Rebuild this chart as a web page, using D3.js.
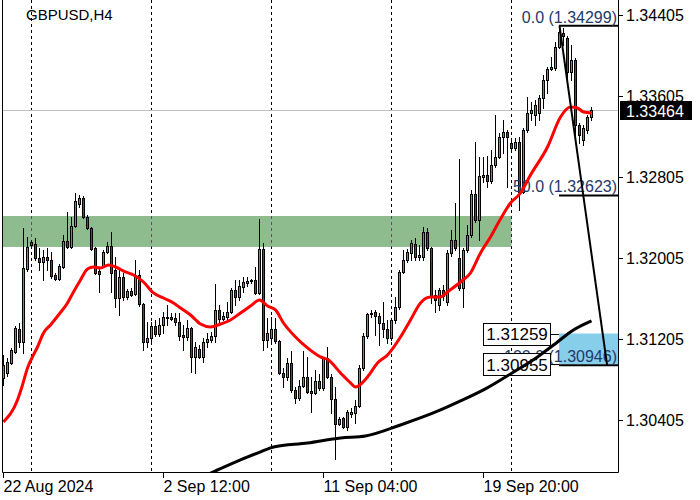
<!DOCTYPE html>
<html><head><meta charset="utf-8">
<script src="https://cdn.jsdelivr.net/npm/d3@7"></script>
<style>body{margin:0;background:#fff;}svg{display:block;}</style>
</head><body>
<svg id="c" width="700" height="500"></svg>
<script>
// ---------- DATA ----------
const symbolTitle = "GBPUSD,H4";
const openP = [
1.30820,1.30870,1.30968,1.31077,1.31304,1.31176,1.31897,1.32163,1.32143,1.32005,
1.31966,1.32015,1.31986,1.31837,1.31798,1.31916,1.32173,1.32114,1.32321,1.32539,
1.32598,1.32410,1.32301,1.32104,1.31877,1.31926,1.32065,1.32124,1.31887,1.31610,
1.31818,1.31620,1.31680,1.31650,1.31837,1.31551,1.31176,1.31215,1.31334,1.31255,
1.31344,1.31423,1.31423,1.31413,1.31373,1.31245,1.31225,1.31314,1.31028,1.31107,
1.31028,1.31176,1.31196,1.31235,1.31492,1.31403,1.31423,1.31472,1.31689,1.31620,
1.31719,1.31758,1.31778,1.31788,1.31660,1.32094,1.31196,1.31215,1.31304,1.31186,
1.30870,1.30830,1.30968,1.30702,1.30623,1.30741,1.30830,1.30692,1.30672,1.30791,
1.30722,1.31018,1.30830,1.30613,1.30366,1.30425,1.30336,1.30465,1.30475,1.30544,
1.30919,1.31235,1.31452,1.31472,1.31433,1.31363,1.31304,1.31215,1.31393,1.31521,
1.31867,1.31986,1.32055,1.32143,1.32015,1.32015,1.32262,1.32104,1.31640,1.31541,
1.31689,1.31571,1.32055,1.32183,1.32005,1.31709,1.32084,1.32232,1.32637,1.32381,
1.32805,1.32825,1.32766,1.32924,1.33003,1.33200,1.33250,1.33141,1.33092,1.33151,
1.32657,1.33269,1.33437,1.33417,1.33437,1.33585,1.33763,1.33872,1.33882,1.34089,
1.34227,1.34178,1.33842,1.33961,1.33319,1.33171,1.33269,1.33398];
const highP = [
1.31047,1.31018,1.31117,1.31334,1.31363,1.32302,1.32213,1.32183,1.32203,1.32104,
1.32084,1.32104,1.32065,1.31857,1.31946,1.32232,1.32460,1.32410,1.32647,1.32627,
1.32618,1.32430,1.32311,1.32114,1.31906,1.32084,1.32163,1.32262,1.32015,1.31906,
1.31857,1.31699,1.31709,1.31986,1.31887,1.31561,1.31373,1.31373,1.31393,1.31413,
1.31472,1.31541,1.31462,1.31462,1.31462,1.31344,1.31393,1.31324,1.31176,1.31146,
1.31215,1.31265,1.31275,1.31749,1.31541,1.31472,1.31571,1.31709,1.31788,1.31788,
1.31818,1.31818,1.31798,1.31916,1.32390,1.32153,1.31413,1.31423,1.31413,1.31196,
1.30919,1.31018,1.31087,1.30731,1.30800,1.31087,1.31028,1.30830,1.30899,1.30860,
1.31028,1.31126,1.30860,1.30731,1.30435,1.30435,1.30504,1.30524,1.30603,1.30949,
1.31265,1.31462,1.31492,1.31492,1.31462,1.31571,1.31393,1.31413,1.31620,1.31887,
1.32084,1.32094,1.32183,1.32203,1.32133,1.32311,1.32301,1.32114,1.31689,1.31709,
1.31739,1.32084,1.32282,1.32548,1.32983,1.32104,1.32331,1.32677,1.33151,1.33004,
1.33004,1.33014,1.33072,1.33417,1.33240,1.33368,1.33269,1.33190,1.33190,1.33200,
1.33289,1.33595,1.33546,1.33565,1.33615,1.33812,1.33891,1.33990,1.34138,1.34299,
1.34277,1.34198,1.34109,1.33980,1.33338,1.33319,1.33417,1.33496];
const lowP = [
1.30751,1.30840,1.30958,1.31067,1.31126,1.31067,1.31877,1.32123,1.31986,1.31887,
1.31788,1.31887,1.31808,1.31788,1.31788,1.31906,1.32104,1.32104,1.32311,1.32509,
1.32400,1.32292,1.32084,1.31847,1.31670,1.31916,1.32055,1.31670,1.31521,1.31442,
1.31591,1.31601,1.31630,1.31640,1.31531,1.31097,1.31126,1.31176,1.31235,1.31235,
1.31265,1.31344,1.31393,1.31344,1.31196,1.31097,1.31196,1.30880,1.30870,1.31018,
1.30978,1.31126,1.31176,1.31176,1.31363,1.31393,1.31393,1.31462,1.31541,1.31591,
1.31670,1.31729,1.31758,1.31650,1.31650,1.31097,1.31126,1.31176,1.31166,1.30860,
1.30731,1.30800,1.30682,1.30573,1.30603,1.30731,1.30672,1.30485,1.30662,1.30702,
1.30702,1.30820,1.30475,1.30020,1.30356,1.30326,1.30306,1.30435,1.30376,1.30534,
1.30899,1.31215,1.31423,1.31245,1.31146,1.31225,1.31166,1.31196,1.31363,1.31502,
1.31857,1.31966,1.31986,1.31986,1.31986,1.31986,1.32084,1.31561,1.31472,1.31492,
1.31591,1.31541,1.32025,1.32084,1.31689,1.31521,1.32065,1.32213,1.32361,1.32183,
1.32756,1.32706,1.32746,1.32904,1.32993,1.33042,1.32706,1.33072,1.33072,1.32479,
1.32647,1.33250,1.33368,1.33319,1.33368,1.33487,1.33635,1.33862,1.33862,1.34079,
1.34109,1.33763,1.33763,1.33220,1.33141,1.33121,1.33240,1.33368];
const closeP = [
1.30949,1.30978,1.31097,1.31314,1.31176,1.31907,1.32114,1.32133,1.32005,1.31966,
1.32015,1.31986,1.31828,1.31798,1.31926,1.32173,1.32114,1.32321,1.32568,1.32598,
1.32410,1.32301,1.32094,1.31857,1.31847,1.32065,1.32124,1.31857,1.31610,1.31818,
1.31620,1.31680,1.31640,1.31837,1.31551,1.31176,1.31215,1.31334,1.31255,1.31344,
1.31423,1.31413,1.31403,1.31373,1.31235,1.31225,1.31314,1.31028,1.31126,1.31028,
1.31176,1.31205,1.31235,1.31492,1.31403,1.31433,1.31472,1.31689,1.31620,1.31729,
1.31768,1.31778,1.31788,1.31660,1.32094,1.31196,1.31265,1.31304,1.31186,1.30870,
1.30830,1.30968,1.30702,1.30623,1.30741,1.30830,1.30682,1.30672,1.30791,1.30722,
1.31018,1.30830,1.30613,1.30366,1.30415,1.30336,1.30485,1.30485,1.30544,1.30919,
1.31235,1.31452,1.31462,1.31433,1.31363,1.31304,1.31215,1.31393,1.31521,1.31867,
1.31986,1.32065,1.32153,1.32015,1.32035,1.32262,1.32104,1.31620,1.31591,1.31689,
1.31630,1.32055,1.32183,1.32104,1.31709,1.32084,1.32232,1.32637,1.32381,1.32815,
1.32825,1.32766,1.32924,1.33003,1.33200,1.33250,1.33200,1.33092,1.33151,1.32657,
1.33269,1.33437,1.33467,1.33516,1.33585,1.33763,1.33872,1.33891,1.34089,1.34237,
1.34198,1.33842,1.33961,1.33319,1.33220,1.33289,1.33398,1.33464];

// fast (red) moving average, read at bar positions
const maFastBar = [0,3.5,4.75,6,7.25,8.5,10,11.75,13.75,16,17.5,19.25,21,22.5,24.25,26.25,28,30.5,32.5,35,
37.5,40,42.5,44.25,46.75,49.25,51.75,54.25,56.75,59.25,61.75,64,66,68,70,73,76,79.25,81.25,84.25,
86.75,88,91,93.5,96,99.25,101.75,104.25,106.75,109.25,111,114.25,116.75,119.25,121.75,124.25,126.75,129.25,131.75,136,
139.25,141.75,143.5,145,147];
const maFastVal = [1.30386,1.30603,1.30751,1.30919,1.31028,1.31126,1.31265,1.31344,1.31442,1.31561,
1.31670,1.31788,1.31897,1.31916,1.31906,1.31936,1.31916,1.31867,1.31837,1.31768,
1.31660,1.31610,1.31561,1.31511,1.31442,1.31353,1.31324,1.31353,1.31393,1.31462,
1.31531,1.31591,1.31531,1.31492,1.31363,1.31225,1.31117,1.31028,1.30998,1.30870,
1.30771,1.30731,1.30830,1.30968,1.31047,1.31225,1.31393,1.31561,1.31620,1.31620,
1.31670,1.31768,1.31857,1.32055,1.32213,1.32390,1.32548,1.32647,1.32825,1.33101,
1.33398,1.33496,1.33486,1.33447,1.33437];
// slow (black) moving average
const maSlowBar = [49,53,59.25,64.25,67.5,76,84.25,90.5,99.25,109.25,114.25,120,126.75,133.5,138.5,141.75,147];
const maSlowVal = [1.29830,1.29902,1.30011,1.30090,1.30139,1.30178,1.30228,1.30248,1.30356,1.30504,1.30593,1.30702,1.30860,1.31028,1.31176,1.31275,1.31383];

const priceTicks = [1.34405,1.33605,1.32805,1.32005,1.31205,1.30405];
const timeTickBars = [0,40,80,120];
const timeTickLabels = ["22 Aug 2024","2 Sep 12:00","11 Sep 04:00","19 Sep 20:00"];
const weekGridBars = [7,37,67,97,127];
const lastPrice = 1.33464;

const fibLevels = ["0.0","50.0","100.0"];
const fibPrices = [1.34299,1.32623,1.30946];
const fibBars = [139,150.9];
const zonePrices = [1.32114,1.32420];
const zoneEndBar = 127;
const boxPrices = [1.31259,1.30955];
const boxStartBar = 138.9;

// ---------- CHART ----------
const W=700,H=500, L=2, R=618, B=472;
const FONT = "'Liberation Sans', Arial, sans-serif";
const bullFill="#3cb043", bearFill="#e01010", fibText="#23396a";
const svg = d3.select("#c");
svg.append("rect").attr("width",W).attr("height",H).attr("fill","#fff");

const x = d3.scaleLinear().domain([0,147]).range([3.5,591.5]);
const y = d3.scaleLinear().domain([1.30405,1.34405]).range([420,15]);

const defs = svg.append("defs");
defs.append("clipPath").attr("id","plot").append("rect")
  .attr("x",L+1).attr("y",0).attr("width",R-L-1).attr("height",B);
const zoneTop=y(zonePrices[1]), zoneBot=y(zonePrices[0]);
defs.append("clipPath").attr("id","zoneclip").append("rect")
  .attr("x",L).attr("y",zoneTop).attr("width",x(zoneEndBar)-L).attr("height",zoneBot-zoneTop);

const g = svg.append("g").attr("clip-path","url(#plot)");

// zones
g.append("rect").attr("x",L).attr("y",zoneTop).attr("width",x(zoneEndBar)-L)
  .attr("height",zoneBot-zoneTop).attr("fill","#8fbc8f");
const bx = x(boxStartBar);
g.append("rect").attr("x",bx).attr("y",y(boxPrices[0])).attr("width",R-bx)
  .attr("height",y(boxPrices[1])-y(boxPrices[0])).attr("fill","#87ceeb");

// week grid
g.selectAll(".grid").data(weekGridBars).join("line").attr("class","grid")
  .attr("x1",d=>x(d)).attr("x2",d=>x(d)).attr("y1",0).attr("y2",B)
  .attr("stroke","#000").attr("stroke-dasharray","3,3");
g.append("g").attr("clip-path","url(#zoneclip)").selectAll("line").data(weekGridBars).join("line")
  .attr("x1",d=>x(d)).attr("x2",d=>x(d)).attr("y1",0).attr("y2",B)
  .attr("stroke","#704370").attr("stroke-dasharray","3,3");

// last price line
const yLast = Math.round(y(lastPrice)-0.5)+0.5;
g.append("line").attr("x1",0).attr("x2",R).attr("y1",yLast).attr("y2",yLast).attr("stroke","#c0c0c0");

// candles
const idx = d3.range(openP.length);
g.selectAll(".wick").data(idx).join("line").attr("class","wick")
  .attr("x1",i=>x(i)).attr("x2",i=>x(i))
  .attr("y1",i=>Math.round(y(highP[i]))).attr("y2",i=>Math.round(y(lowP[i]))+1)
  .attr("stroke","#000");
const bodyTop = i=>Math.round(y(Math.max(openP[i],closeP[i])));
const bodyBot = i=>Math.round(y(Math.min(openP[i],closeP[i])));
g.selectAll(".body").data(idx.filter(i=>bodyBot(i)-bodyTop(i)>=1)).join("rect").attr("class","body")
  .attr("x",i=>x(i)-1).attr("y",i=>bodyTop(i)+0.5).attr("width",2)
  .attr("height",i=>bodyBot(i)-bodyTop(i))
  .attr("fill",i=>closeP[i]>=openP[i]?bullFill:bearFill).attr("stroke","#000");
g.selectAll(".doji").data(idx.filter(i=>bodyBot(i)-bodyTop(i)<1)).join("line").attr("class","doji")
  .attr("x1",i=>x(i)-1.5).attr("x2",i=>x(i)+1.5)
  .attr("y1",i=>bodyTop(i)+0.5).attr("y2",i=>bodyTop(i)+0.5).attr("stroke","#000");

// fib level lines & texts
const fx = x(fibBars[0]);
g.selectAll(".fibline").data(fibPrices).join("line").attr("class","fibline")
  .attr("x1",fx-0.5).attr("x2",R).attr("y1",d=>y(d)).attr("y2",d=>y(d))
  .attr("stroke","#000").attr("stroke-width",2);
g.selectAll(".fibtext").data(fibPrices).join("text").attr("class","fibtext")
  .attr("x",R-1).attr("y",d=>Math.round(y(d))-3.5).attr("text-anchor","end")
  .attr("font-family",FONT).attr("font-size",16).attr("fill",fibText)
  .text((d,i)=>`${fibLevels[i]} (${d3.format(".5f")(d)})`);

// price label boxes
const lbW=67, lbH=22, lbR=bx-9;
boxPrices.forEach(p=>{
  const cy = y(p);
  g.append("line").attr("x1",lbR).attr("x2",bx).attr("y1",Math.round(cy)+0.5).attr("y2",Math.round(cy)+0.5).attr("stroke","#000");
  g.append("rect").attr("x",Math.round(lbR-lbW)+0.5).attr("y",Math.round(cy-lbH/2)+0.5)
    .attr("width",lbW).attr("height",lbH).attr("fill","#fff").attr("stroke","#000");
  g.append("text").attr("x",lbR-lbW/2+0.5).attr("y",cy+1).attr("dy","0.35em").attr("text-anchor","middle")
    .attr("font-family",FONT).attr("font-size",17).attr("fill","#000").text(d3.format(".5f")(p));
});

// moving averages
const maLine = d3.line().x(d=>x(d[0])).y(d=>y(d[1])).curve(d3.curveMonotoneX);
g.append("path").datum(d3.zip(maSlowBar,maSlowVal)).attr("d",maLine)
  .attr("fill","none").attr("stroke","#000").attr("stroke-width",3);
g.append("path").datum(d3.zip(maFastBar,maFastVal)).attr("d",maLine)
  .attr("fill","none").attr("stroke","#ff0000").attr("stroke-width",3);

// fib trend line
g.append("line").attr("x1",x(fibBars[0])).attr("y1",y(fibPrices[0]))
  .attr("x2",x(fibBars[1])).attr("y2",y(fibPrices[2]))
  .attr("stroke","#000").attr("stroke-width",2);

// title
svg.append("text").attr("x",26).attr("y",20).attr("font-family",FONT).attr("font-size",15)
  .attr("fill","#000").text(symbolTitle);

// frame
svg.append("path").attr("d",`M${L+0.5},0V${B+0.5}H${R+0.5}V0`).attr("fill","none").attr("stroke","#000");

// y axis
const yAxis = d3.axisRight(y).tickValues(priceTicks).tickFormat(d3.format(".5f")).tickSize(5).tickPadding(3);
const ya = svg.append("g").attr("transform",`translate(${R},0)`).call(yAxis);
ya.select(".domain").remove();
ya.attr("font-family",FONT).attr("font-size",16);
ya.selectAll("text").attr("fill","#000");
ya.selectAll("line").attr("stroke","#000");

// last price tag
svg.append("rect").attr("x",R+2).attr("y",Math.round(y(lastPrice))-9).attr("width",72).attr("height",19).attr("fill","#000");
svg.append("text").attr("x",R+8).attr("y",y(lastPrice)+1).attr("dy","0.33em")
  .attr("font-family",FONT).attr("font-size",16).attr("fill","#fff").text(d3.format(".5f")(lastPrice));

// x axis
const xAxis = d3.axisBottom(x).tickValues(timeTickBars).tickFormat((d,i)=>timeTickLabels[i]).tickSize(5).tickPadding(3).offset(0);
const xa = svg.append("g").attr("transform",`translate(0,${B+1})`).call(xAxis);
xa.select(".domain").remove();
xa.attr("font-family",FONT).attr("font-size",16);
xa.selectAll("text").attr("text-anchor","start").attr("fill","#000");
xa.selectAll("line").attr("stroke","#000");
</script>
</body></html>
